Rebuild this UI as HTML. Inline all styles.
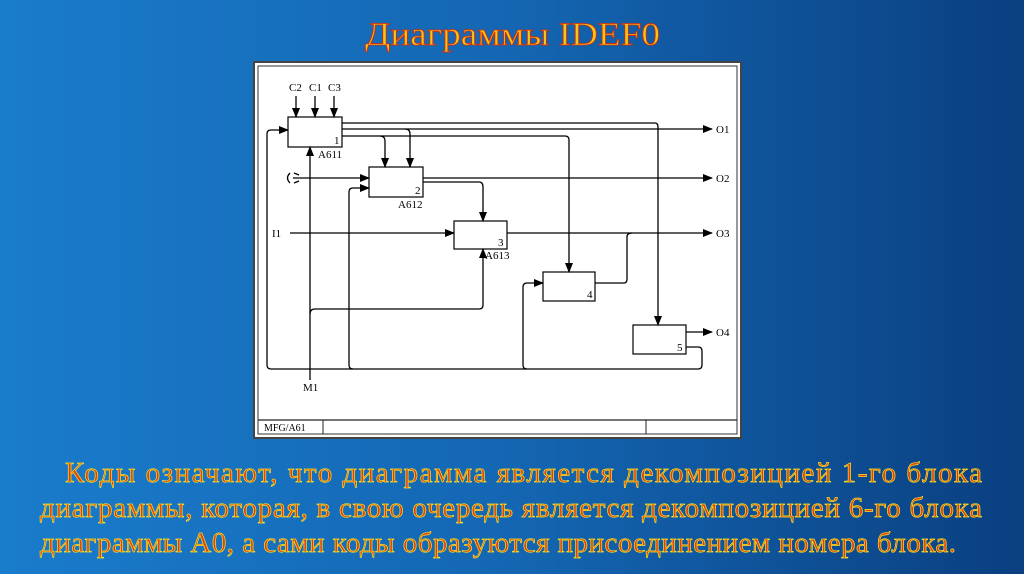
<!DOCTYPE html>
<html><head><meta charset="utf-8"><style>
html,body{margin:0;padding:0;width:1024px;height:574px;overflow:hidden}
body{background:linear-gradient(90deg,#1a7ccc 0%,#1466b2 50%,#0a3f80 100%)}
svg{position:absolute;left:0;top:0}
</style></head><body>
<svg width="1024" height="574" viewBox="0 0 1024 574" xmlns="http://www.w3.org/2000/svg">
<defs>
<marker id="a" markerWidth="10" markerHeight="8" refX="9" refY="4" orient="auto" markerUnits="userSpaceOnUse">
<path d="M0,0 L10,4 L0,8 Z" fill="#000"/></marker>
</defs>
<text x="365" y="45" font-family="Liberation Serif, serif" font-size="33" fill="#f2c818" stroke="#d82808" stroke-width="0.8" textLength="295" lengthAdjust="spacingAndGlyphs">Диаграммы IDEF0</text>
<rect x="254" y="62" width="487" height="376" fill="#fff" stroke="#444" stroke-width="2"/>
<rect x="258" y="66" width="479" height="368" fill="#fff" stroke="#333" stroke-width="1"/>
<line x1="258" y1="420" x2="737" y2="420" stroke="#222" stroke-width="1.2"/>
<line x1="323" y1="420" x2="323" y2="434" stroke="#222"/>
<line x1="646" y1="420" x2="646" y2="434" stroke="#222"/>
<text x="264" y="431" font-family="Liberation Serif, serif" font-size="10">MFG/A61</text>
<g fill="#fff" stroke="#000" stroke-width="1.2">
<rect x="288" y="117" width="54" height="30"/>
<rect x="369" y="167" width="54" height="30"/>
<rect x="454" y="221" width="53" height="28"/>
<rect x="543" y="272" width="52" height="29"/>
<rect x="633" y="325" width="53" height="29"/>
</g>
<g fill="none" stroke="#000" stroke-width="1.3" stroke-linejoin="round">
<line x1="296" y1="96" x2="296" y2="117" marker-end="url(#a)"/>
<line x1="315" y1="96" x2="315" y2="117" marker-end="url(#a)"/>
<line x1="334" y1="96" x2="334" y2="117" marker-end="url(#a)"/>
<path d="M342,123 H655 Q658,123 658,127 V325" marker-end="url(#a)"/>
<path d="M342,129 H712" marker-end="url(#a)"/>
<path d="M405,129 Q410,129 410,134 V167" marker-end="url(#a)"/>
<path d="M342,136 H565 Q569,136 569,140 V272" marker-end="url(#a)"/>
<path d="M380,136 Q385,136 385,141 V167" marker-end="url(#a)"/>
<path d="M293,178 H369" marker-end="url(#a)"/>
<path d="M423,178 H712" marker-end="url(#a)"/>
<path d="M423,182 H479 Q483,182 483,187 V221" marker-end="url(#a)"/>
<path d="M290,233 H454" marker-end="url(#a)"/>
<path d="M507,233 H712" marker-end="url(#a)"/>
<path d="M595,283 H624 Q627,283 627,279 V237 Q627,233 632,233"/>
<path d="M686,332 H712" marker-end="url(#a)"/>
<path d="M686,347 H698 Q702,347 702,351 V365 Q702,369 698,369 H271 Q267,369 267,365 V134 Q267,130 271,130 H288" marker-end="url(#a)"/>
<path d="M353,369 Q349,369 349,365 V192 Q349,188 353,188 H369" marker-end="url(#a)"/>
<path d="M527,369 Q523,369 523,365 V287 Q523,283 527,283 H543" marker-end="url(#a)"/>
<path d="M310,380 V147" marker-end="url(#a)"/>
<path d="M310,314 Q310,309 315,309 H479 Q483,309 483,305 V249" marker-end="url(#a)"/>
<path d="M290,173 Q285,178 290,183"/>
<path d="M294,173 Q299,175 299,175"/>
<path d="M294,183 Q299,181 299,181"/>
</g>
<g font-family="Liberation Serif, serif" font-size="11" fill="#000">
<text x="289" y="91">C2</text><text x="309" y="91">C1</text><text x="328" y="91">C3</text>
<text x="334" y="144">1</text><text x="318" y="158">A611</text>
<text x="415" y="194">2</text><text x="398" y="208">A612</text>
<text x="498" y="246">3</text><text x="485" y="259">A613</text>
<text x="587" y="298">4</text><text x="677" y="351">5</text>
<text x="272" y="237">I1</text><text x="303" y="391">M1</text>
<text x="716" y="133">O1</text><text x="716" y="182">O2</text><text x="716" y="237">O3</text><text x="716" y="336">O4</text>
</g>
<g font-family="Liberation Serif, serif" font-size="29" fill="#e2400e" stroke="#f4e028" stroke-width="0.7">
<text x="65" y="482" textLength="917" lengthAdjust="spacing">Коды означают, что диаграмма является декомпозицией 1-го блока</text>
<text x="40" y="517" textLength="942" lengthAdjust="spacing">диаграммы, которая, в свою очередь является декомпозицией 6-го блока</text>
<text x="40" y="552" textLength="916" lengthAdjust="spacing">диаграммы А0, а сами коды образуются присоединением номера блока.</text>
</g>
</svg>
</body></html>
